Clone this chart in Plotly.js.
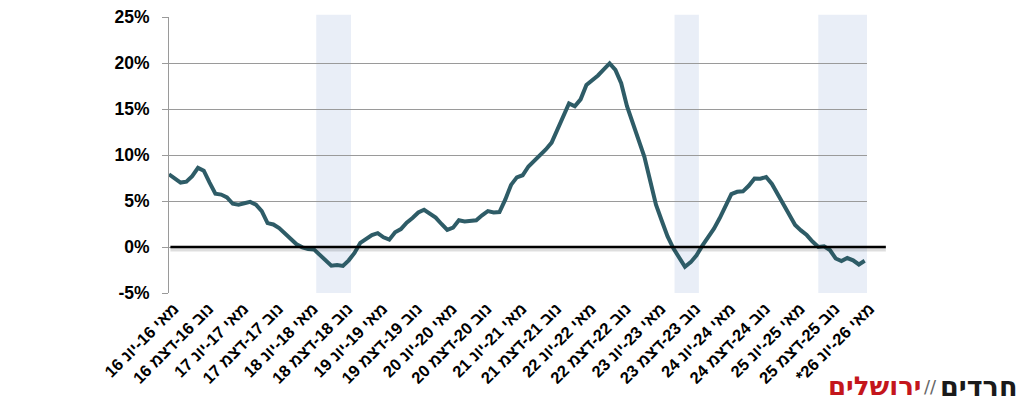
<!DOCTYPE html>
<html>
<head>
<meta charset="utf-8">
<script src="https://cdn.plot.ly/plotly-3.0.1.min.js"></script>
<style>
html,body{margin:0;padding:0;background:#fff;}
#chart{width:1025px;height:408px;}
</style>
</head>
<body>
<div id="chart"></div>
<script>
// Monthly index (rolling two-month periods) from מאי 16-יונ 16 to מאי 26-יונ 26*
const changePct = [
  7.9, 7.5, 7.0, 7.1, 7.7, 8.6, 8.3, 7.0, 5.8, 5.7,
  5.4, 4.7, 4.6, 4.75, 4.9, 4.6, 3.9, 2.6, 2.45, 2.05,
  1.45, 0.85, 0.3, -0.04, -0.22, -0.26, -0.85, -1.5, -2.03, -1.95,
  -2.05, -1.45, -0.64, 0.45, 0.9, 1.3, 1.5, 1.05, 0.8, 1.6,
  1.95, 2.65, 3.15, 3.75, 4.05, 3.6, 3.2, 2.5, 1.85, 2.1,
  2.9, 2.77, 2.85, 2.9, 3.45, 3.9, 3.75, 3.8, 5.15, 6.75,
  7.57, 7.8, 8.75, 9.35, 9.95, 10.6, 11.35, 12.75, 14.3, 15.6,
  15.3, 16.05, 17.6, 18.1, 18.65, 19.3, 19.95, 19.25, 17.8, 15.3,
  13.4, 11.65, 9.8, 7.2, 4.6, 2.85, 1.15, -0.15, -1.2, -2.15,
  -1.65, -0.9, 0.15, 1.05, 2.0, 3.15, 4.55, 5.75, 6.0, 6.05,
  6.65, 7.45, 7.42, 7.6, 6.85, 5.7, 4.55, 3.45, 2.4, 1.8,
  1.3, 0.6, 0.0, 0.08, -0.33, -1.25, -1.53, -1.2, -1.45, -1.9,
  -1.5
];
const periodIndex = changePct.map((_, i) => i);

const xTickVals = [0, 6, 12, 18, 24, 30, 36, 42, 48, 54, 60, 66, 72, 78, 84, 90, 96, 102, 108, 114, 120];
const xTickLabels = [
  "מאי 16-יונ 16", "נוב 16-דצמ 16", "מאי 17-יונ 17", "נוב 17-דצמ 17",
  "מאי 18-יונ 18", "נוב 18-דצמ 18", "מאי 19-יונ 19", "נוב 19-דצמ 19",
  "מאי 20-יונ 20", "נוב 20-דצמ 20", "מאי 21-יונ 21", "נוב 21-דצמ 21",
  "מאי 22-יונ 22", "נוב 22-דצמ 22", "מאי 23-יונ 23", "נוב 23-דצמ 23",
  "מאי 24-יונ 24", "נוב 24-דצמ 24", "מאי 25-יונ 25", "נוב 25-דצמ 25",
  "מאי 26-יונ 26*\u200F"
];

const yTickVals = [-5, 0, 5, 10, 15, 20, 25];
const yTickLabels = ["-5%", "0%", "5%", "10%", "15%", "20%", "25%"];

// shaded periods (start, end in period index)
const bandStart = [25.4, 87.2, 112.0];
const bandEnd   = [31.4, 91.4, 120.4];

const shapes = [];
for (let k = 0; k < bandStart.length; k++) {
  shapes.push({
    type: 'rect', xref: 'x', yref: 'paper',
    x0: bandStart[k], x1: bandEnd[k], y0: 0, y1: 1.008,
    fillcolor: '#e9eef7', line: {width: 0}, layer: 'below'
  });
}
// zero line shadow + zero line
shapes.push({
  type: 'line', xref: 'paper', yref: 'y', x0: 0.002, x1: 1.027, y0: -0.28, y1: -0.28,
  line: {color: 'rgba(0,0,0,0.13)', width: 4}, layer: 'above'
});
shapes.push({
  type: 'line', xref: 'paper', yref: 'y', x0: 0.002, x1: 1.027, y0: 0, y1: 0,
  line: {color: '#000000', width: 2.6}, layer: 'above'
});

const trace = {
  x: periodIndex,
  y: changePct,
  type: 'scatter',
  mode: 'lines',
  line: {color: '#2e5c67', width: 4},
  hoverinfo: 'skip'
};

const layout = {
  width: 1025, height: 408,
  margin: {l: 169, r: 158, t: 17, b: 115},
  paper_bgcolor: '#ffffff',
  plot_bgcolor: 'rgba(0,0,0,0)',
  showlegend: false,
  font: {family: 'Liberation Sans, Arial, sans-serif', color: '#000'},
  xaxis: {
    range: [0, 120.4],
    showgrid: false,
    zeroline: false,
    showline: false,
    tickmode: 'array',
    tickvals: xTickVals,
    ticktext: xTickLabels,
    tickangle: -45,
    ticks: '',
    ticklabelshift: 5,
    ticklabelstandoff: 2,
    tickfont: {family: 'Liberation Sans, Arial, sans-serif', size: 16.5, weight: 700, color: '#000'}
  },
  yaxis: {
    range: [-5, 25],
    tickmode: 'array',
    tickvals: yTickVals,
    ticktext: yTickLabels,
    showgrid: true,
    gridcolor: '#9a9a9a',
    gridwidth: 1,
    zeroline: false,
    showline: true,
    linecolor: '#9a9a9a',
    linewidth: 1,
    ticks: 'outside',
    ticklen: 6,
    tickcolor: '#9a9a9a',
    ticklabelstandoff: 9,
    tickfont: {family: 'Liberation Sans, Arial, sans-serif', size: 17.5, weight: 700, color: '#000'}
  },
  shapes: shapes,
  annotations: [
    {
      xref: 'paper', yref: 'paper', x: 1.2163, y: -0.337,
      xanchor: 'right', yanchor: 'middle', showarrow: false, borderpad: 0,
      text: 'חרדים',
      font: {family: 'DejaVu Sans, sans-serif', size: 27, weight: 700, color: '#1a1a1a'}
    },
    {
      xref: 'paper', yref: 'paper', x: 1.0915, y: -0.337,
      xanchor: 'center', yanchor: 'middle', showarrow: false, borderpad: 0,
      text: '//',
      font: {family: 'DejaVu Sans, sans-serif', size: 18, weight: 400, color: '#666'}
    },
    {
      xref: 'paper', yref: 'paper', x: 1.0795, y: -0.337,
      xanchor: 'right', yanchor: 'middle', showarrow: false, borderpad: 0,
      text: 'ירושלים',
      font: {family: 'DejaVu Sans, sans-serif', size: 26, weight: 700, color: '#c4161c'}
    }
  ]
};

Plotly.newPlot('chart', [trace], layout, {displayModeBar: false, staticPlot: true});
</script>
</body>
</html>
